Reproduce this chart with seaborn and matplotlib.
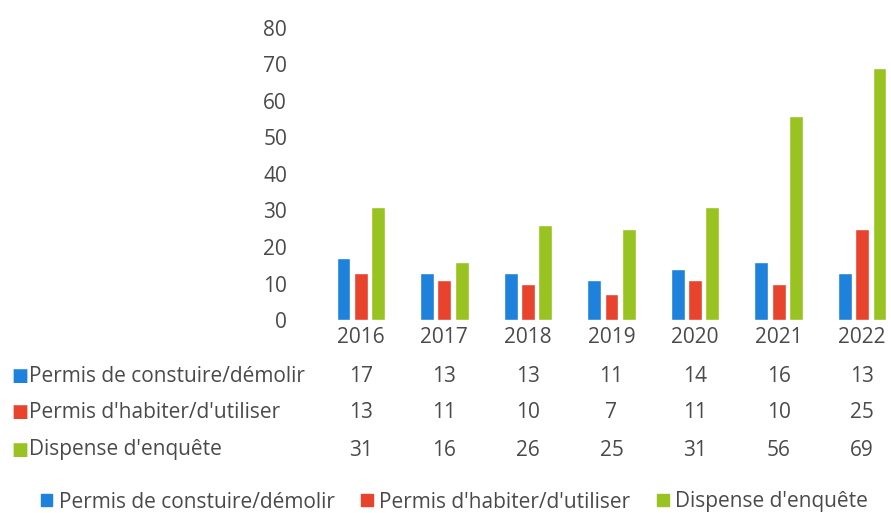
import pandas as pd
import seaborn as sns
import matplotlib.pyplot as plt
from matplotlib.transforms import blended_transform_factory

sns.set_theme(style="white")
plt.rcParams["font.family"] = ["Open Sans", "DejaVu Sans"]

years = ["2016", "2017", "2018", "2019", "2020", "2021", "2022"]
series = ["Permis de constuire/démolir", "Permis d'habiter/d'utiliser", "Dispense d'enquête"]
construire = [17, 13, 13, 11, 14, 16, 13]
habiter = [13, 11, 10, 7, 11, 10, 25]
dispense = [31, 16, 26, 25, 31, 56, 69]
colors = ["#1e82dc", "#e8432d", "#98c320"]
txt = "#4a4a4a"
fs = 15

values = [construire, habiter, dispense]
df = pd.DataFrame({
    "year": years * 3,
    "serie": [s for s in series for _ in years],
    "value": construire + habiter + dispense,
})

fig = plt.figure(figsize=(8.91, 5.13), dpi=100)
ax = fig.add_axes([319 / 891, 1 - 320 / 513, 585 / 891, 292 / 513])
sns.barplot(data=df, x="year", y="value", hue="serie", palette=colors,
            saturation=1, width=0.62, gap=0.2, ax=ax, legend=False)
ax.set_ylim(0, 80)
ax.set_yticks(range(0, 81, 10))
ax.set(xlabel="", ylabel="")
sns.despine(ax=ax, left=True, bottom=True)
ax.tick_params(axis="both", length=0, labelsize=fs, labelcolor=txt)
ax.tick_params(axis="y", pad=23)
ax.tick_params(axis="x", pad=5)

# data table below the chart
row_y = [1 - 376 / 513, 1 - 412 / 513, 1 - 450 / 513]
trans = blended_transform_factory(ax.transData, fig.transFigure)
for s, vals, c, y in zip(series, values, colors, row_y):
    fig.text(20 / 891, y, "■", color=c, fontsize=13, ha="center", va="center",
             family="DejaVu Sans")
    fig.text(29 / 891, y, s, color=txt, fontsize=fs, ha="left", va="center")
    for i, v in enumerate(vals):
        ax.text(i, y, str(v), color=txt, fontsize=fs, ha="center", va="center",
                transform=trans)

handles = [plt.Rectangle((0, 0), 1, 1, color=c) for c in colors]
fig.legend(handles, series, loc="center", bbox_to_anchor=(0.51, 1 - 502 / 513),
           ncol=3, frameon=False, fontsize=fs, labelcolor=txt,
           handlelength=0.55, handleheight=0.55, handletextpad=0.3, columnspacing=1.3)

fig.savefig("out.png", dpi=100)
